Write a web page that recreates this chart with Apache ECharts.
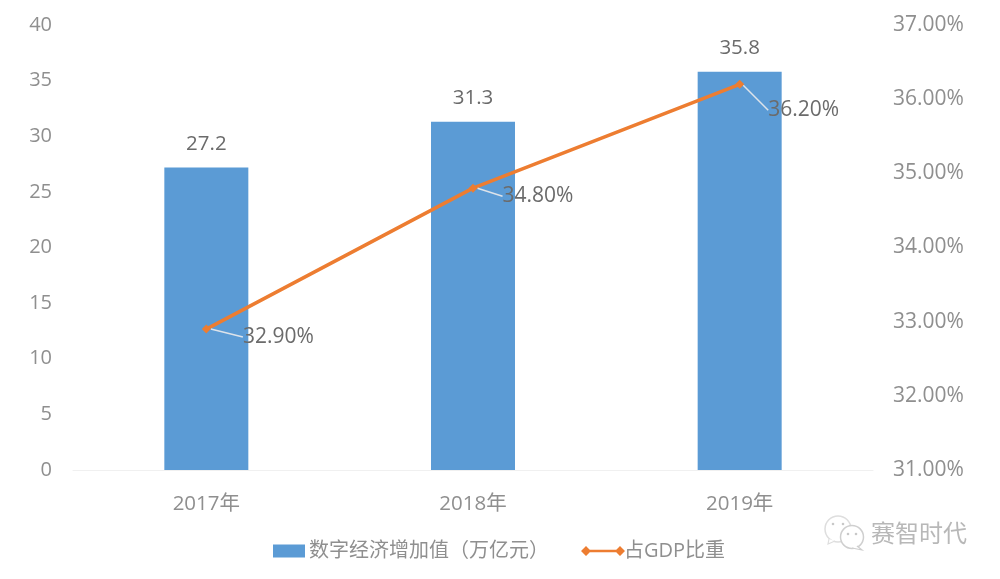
<!DOCTYPE html>
<html>
<head>
<meta charset="utf-8">
<style>html,body{margin:0;padding:0;background:#fff}#main{width:1000px;height:579px}</style>
<script src="https://cdn.jsdelivr.net/npm/echarts@6/dist/echarts.min.js"></script>
</head>
<body>
<div id="main"></div>
<script>
const years = ['2017年', '2018年', '2019年'];
const addedValue = [27.2, 31.3, 35.8];
const gdpShare = [32.9, 34.8, 36.2];
// label offsets of the line series, per point
const shareLabelShift = [[72, 8], [65, 8], [64, 26]];

const font = '"Open Sans","Noto Sans CJK SC",sans-serif';
const axisGrey = '#8f8f8f';
const labelGrey = '#6b6b6b';

const chart = echarts.init(document.getElementById('main'));

// line with a diamond on each end, for the legend
const legendLine = 'path://M0 5L5 0L10 5L5 10ZM5 3.8H39V6.2H5ZM34 5L39 0L44 5L39 10Z';

function dot(cx, cy) {
  return { type: 'circle', shape: { cx: cx, cy: cy, r: 1.3 }, style: { fill: '#c8c8c8' } };
}

chart.setOption({
  animation: false,
  textStyle: { fontFamily: font },
  grid: { left: 73, right: 127, top: 25, bottom: 109 },
  legend: [{
    left: 273, top: 541, padding: 0, itemWidth: 32, itemHeight: 13, itemGap: 4,
    data: [{ name: '数字经济增加值（万亿元）', icon: 'rect' }],
    textStyle: { fontSize: 20, color: axisGrey, fontFamily: font, padding: [0, 0, 0, -1] }
  }, {
    left: 581, top: 541, padding: 0, itemWidth: 44, itemHeight: 10, itemGap: 1,
    data: [{ name: '占GDP比重', icon: legendLine }],
    textStyle: { fontSize: 20, color: axisGrey, fontFamily: font, padding: [0, 0, 0, -6] }
  }],
  xAxis: {
    type: 'category',
    data: years,
    axisTick: { show: false },
    axisLine: { lineStyle: { color: '#f0f0f0' } },
    axisLabel: { fontSize: 20.5, color: axisGrey, margin: 24 }
  },
  yAxis: [{
    type: 'value', min: 0, max: 40, interval: 5,
    splitLine: { show: false },
    axisLabel: { fontSize: 20, color: axisGrey, margin: 21 }
  }, {
    type: 'value', min: 31, max: 37, interval: 1,
    splitLine: { show: false },
    axisLabel: {
      fontSize: 21, color: axisGrey, margin: 20,
      formatter: v => v.toFixed(2) + '%'
    }
  }],
  series: [{
    name: '数字经济增加值（万亿元）',
    type: 'bar',
    data: addedValue,
    barWidth: 84,
    itemStyle: { color: '#5b9bd5' },
    label: {
      show: true, position: 'top', distance: 13,
      fontSize: 20.5, color: labelGrey, fontFamily: font
    }
  }, {
    name: '占GDP比重',
    type: 'line',
    yAxisIndex: 1,
    data: gdpShare,
    symbol: 'diamond',
    symbolSize: 9,
    itemStyle: { color: '#ed7d31' },
    lineStyle: { color: '#ed7d31', width: 3.5 },
    label: {
      show: true, position: 'inside',
      fontSize: 21, color: labelGrey, fontFamily: font,
      formatter: p => p.value.toFixed(2) + '%'
    },
    labelLine: { show: true, smooth: 0.4, lineStyle: { color: '#dde3ea', width: 1.5 } },
    labelLayout: p => {
      const s = shareLabelShift[p.dataIndex];
      return { dx: s[0], dy: s[1] };
    }
  }],
  graphic: [
    // watermark
    { type: 'circle', shape: { cx: 838, cy: 529, r: 13 }, style: { fill: '#fff', stroke: '#dedede', lineWidth: 1.5 } },
    { type: 'polyline', shape: { points: [[829, 539], [828, 544], [835, 541]] }, style: { fill: '#fff', stroke: '#dedede', lineWidth: 1.2 } },
    dot(833, 524), dot(843, 524),
    { type: 'circle', shape: { cx: 852, cy: 537, r: 11.5 }, style: { fill: '#fff', stroke: '#cfcfcf', lineWidth: 1.5 } },
    { type: 'polyline', shape: { points: [[857, 546], [862, 550], [852, 548]] }, style: { fill: '#fff', stroke: '#cfcfcf', lineWidth: 1.2 } },
    dot(848, 534), dot(856, 534),
    { type: 'text', left: 871, top: 523, style: { text: '赛智时代', fontSize: 24, fill: '#b8b8b8', fontFamily: font } }
  ]
});
</script>
</body>
</html>
